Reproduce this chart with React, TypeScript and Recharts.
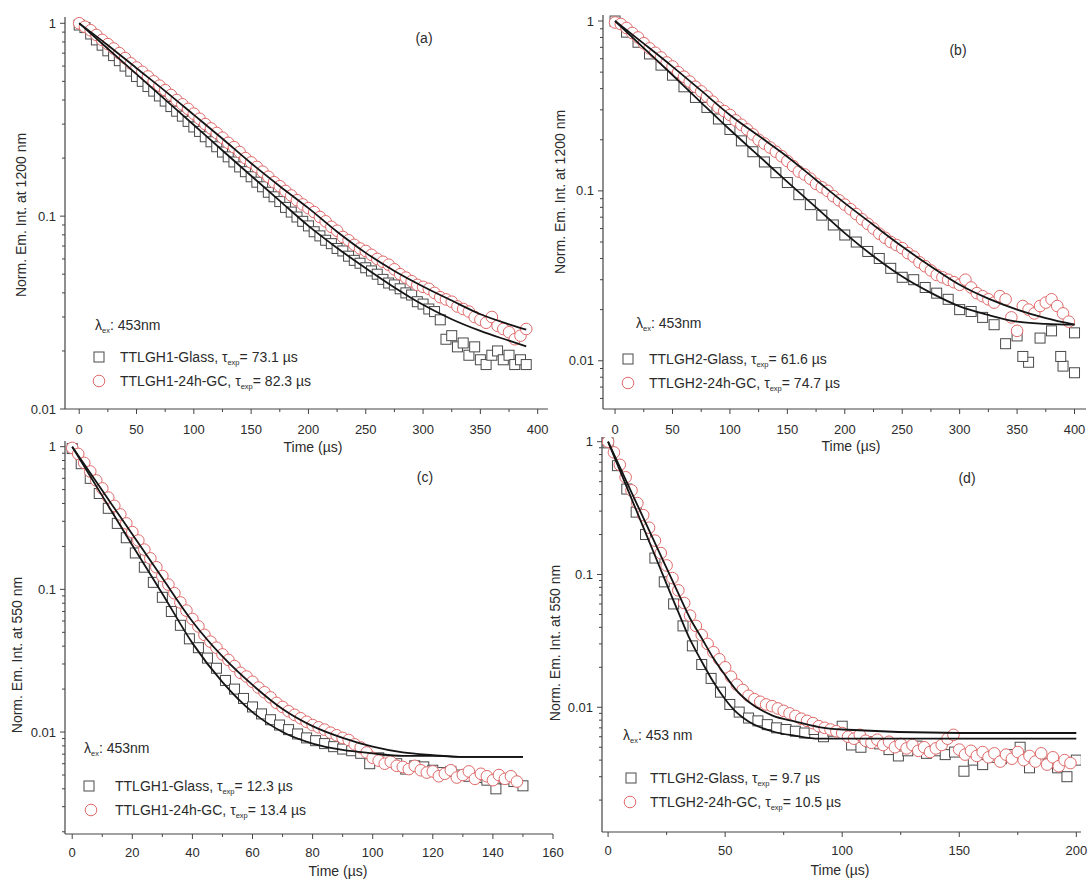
import React from 'react'
import { ComposedChart, Scatter, Line, XAxis, YAxis } from 'recharts'

const W = 1089
const H = 881
const FONT = '"Liberation Sans", Arial, sans-serif'
const TEXT = '#2b2b2b'
const AXIS = '#444'
const SQUARE = '#4a4a4a'
const CIRCLE = '#e06a6a'
const FIT = '#151515'

// ---------- (a) TTLGH1, emission at 1200 nm (symbols every 5 us) ----------
const aStep = 5
const aGlass = [
  0.98, 0.95, 0.88, 0.82, 0.77, 0.72, 0.68, 0.64, 0.60, 0.565,
  0.53, 0.50, 0.47, 0.445, 0.42, 0.395, 0.37, 0.35, 0.33, 0.31,
  0.29, 0.275, 0.258, 0.243, 0.229, 0.215, 0.203, 0.191, 0.18, 0.17,
  0.16, 0.15, 0.142, 0.133, 0.126, 0.119, 0.111, 0.105, 0.099, 0.094,
  0.089, 0.083, 0.079, 0.075, 0.072, 0.068, 0.066, 0.062, 0.059, 0.057,
  0.054, 0.052, 0.050, 0.047, 0.045, 0.044, 0.042, 0.040, 0.039, 0.036,
  0.035, 0.033, 0.032, 0.029, 0.023, 0.024, 0.021, 0.022, 0.019, 0.021,
  0.018, 0.017, 0.019, 0.020, 0.018, 0.019, 0.017, 0.018, 0.017,
]
const aGC = [
  1.0, 0.96, 0.92, 0.87, 0.82, 0.78, 0.74, 0.70, 0.66, 0.62,
  0.59, 0.56, 0.53, 0.50, 0.475, 0.45, 0.425, 0.40, 0.38, 0.36,
  0.34, 0.32, 0.30, 0.285, 0.27, 0.255, 0.24, 0.228, 0.215, 0.20,
  0.19, 0.18, 0.17, 0.16, 0.15, 0.143, 0.135, 0.128, 0.121, 0.115,
  0.11, 0.105, 0.099, 0.094, 0.088, 0.084, 0.078, 0.075, 0.071, 0.068,
  0.066, 0.063, 0.060, 0.058, 0.056, 0.053, 0.050, 0.048, 0.046, 0.044,
  0.043, 0.042, 0.040, 0.038, 0.037, 0.036, 0.034, 0.033, 0.032, 0.030,
  0.029, 0.028, 0.030, 0.027, 0.026, 0.025, 0.023, 0.024, 0.026,
]
const aFitT = [0, 25, 50, 75, 100, 125, 150, 175, 200, 225, 250, 275, 300, 325, 350, 375, 390]
const aFitGlass = [1.0, 0.738, 0.545, 0.402, 0.297, 0.219, 0.162, 0.120, 0.089, 0.0684, 0.0537, 0.0427, 0.0347, 0.0292, 0.0254, 0.0226, 0.0211]
const aFitGC = [1.0, 0.77, 0.585, 0.445, 0.335, 0.252, 0.188, 0.143, 0.11, 0.083, 0.0645, 0.052, 0.0432, 0.0365, 0.031, 0.0275, 0.0258]

// ---------- (b) TTLGH2, emission at 1200 nm ----------
const bGlassStep = 10
const bGlass = [
  1.0, 0.86, 0.75, 0.64, 0.55, 0.48, 0.41, 0.355, 0.31, 0.265,
  0.23, 0.197, 0.17, 0.148, 0.128, 0.112, 0.095, 0.083, 0.072, 0.063,
  0.055, 0.050, 0.044, 0.040, 0.035, 0.031, 0.030, 0.027, 0.025, 0.023,
  0.020, 0.0195, 0.018, 0.0163, 0.0126, 0.0140, 0.0098, 0.0136, 0.015, 0.0093, 0.0146,
]
const bGlassExtraT = [355, 388, 400]
const bGlassExtraV = [0.0106, 0.0106, 0.0085]
const bGCStep = 5
const bGC = [
  0.98, 0.96, 0.91, 0.85, 0.80, 0.74, 0.69, 0.65, 0.61, 0.57,
  0.54, 0.50, 0.47, 0.44, 0.41, 0.385, 0.36, 0.335, 0.31, 0.295,
  0.28, 0.26, 0.245, 0.23, 0.215, 0.20, 0.19, 0.18, 0.17, 0.16,
  0.15, 0.14, 0.13, 0.125, 0.118, 0.11, 0.105, 0.10, 0.093, 0.088,
  0.083, 0.078, 0.073, 0.068, 0.064, 0.06, 0.056, 0.053, 0.05, 0.048,
  0.046, 0.043, 0.041, 0.038, 0.036, 0.034, 0.032, 0.031, 0.030, 0.029,
  0.028, 0.030, 0.027, 0.025, 0.024, 0.023, 0.022, 0.024, 0.023, 0.018,
  0.015, 0.021, 0.020, 0.019, 0.021, 0.022, 0.023, 0.021, 0.019, 0.017,
]
const bFitT = [0, 25, 50, 75, 100, 125, 150, 175, 200, 225, 250, 275, 300, 325, 350, 375, 400]
const bFitGlass = [1.0, 0.693, 0.481, 0.331, 0.229, 0.161, 0.113, 0.080, 0.0564, 0.0412, 0.0313, 0.0251, 0.0209, 0.0186, 0.017, 0.0165, 0.0163]
const bFitGC = [1.0, 0.736, 0.539, 0.389, 0.28, 0.211, 0.159, 0.116, 0.0847, 0.063, 0.047, 0.0359, 0.028, 0.0232, 0.020, 0.0178, 0.0163]

// ---------- (c) TTLGH1, emission at 550 nm ----------
const cGlassStep = 3
const cGlass = [
  0.97, 0.76, 0.60, 0.47, 0.37, 0.29, 0.23, 0.18, 0.143, 0.112,
  0.088, 0.070, 0.056, 0.045, 0.039, 0.033, 0.028, 0.023, 0.020, 0.0172,
  0.015, 0.0134, 0.0122, 0.0112, 0.0104, 0.0097, 0.0091, 0.0087, 0.0083, 0.0079,
  0.0076, 0.0074, 0.0071, 0.0060, 0.0066, 0.0063, 0.0060, 0.0055, 0.0058, 0.0057,
  0.0054, 0.0052, 0.0053, 0.0050, 0.0049, 0.0048, 0.0046, 0.0040, 0.0047, 0.0045, 0.0042,
]
const cGCStep = 2
const cGC = [
  0.98, 0.89, 0.77, 0.67, 0.58, 0.51, 0.44, 0.385, 0.335, 0.29,
  0.252, 0.22, 0.19, 0.165, 0.143, 0.124, 0.108, 0.094, 0.081, 0.071,
  0.062, 0.055, 0.048, 0.043, 0.039, 0.035, 0.032, 0.029, 0.026, 0.0245,
  0.0225, 0.0205, 0.019, 0.0175, 0.016, 0.015, 0.014, 0.0132, 0.0125, 0.0118,
  0.0112, 0.0108, 0.0104, 0.0099, 0.0095, 0.0091, 0.0088, 0.0082, 0.0078, 0.0072,
  0.0066, 0.0063, 0.0060, 0.0062, 0.0058, 0.0057, 0.0055, 0.0058, 0.0054, 0.0052,
  0.0053, 0.0049, 0.0051, 0.0054, 0.0048, 0.0050, 0.0053, 0.0047, 0.0051, 0.0049,
  0.0046, 0.0050, 0.0047, 0.0049, 0.0045,
]
const cFitT = [0, 10, 20, 30, 40, 50, 60, 70, 80, 90, 100, 110, 120, 130, 140, 150]
const cFitGlass = [1.0, 0.452, 0.204, 0.0933, 0.042, 0.0224, 0.0138, 0.0100, 0.0083, 0.0075, 0.0071, 0.0068, 0.0068, 0.0067, 0.0067, 0.0067]
const cFitGC = [1.0, 0.493, 0.243, 0.120, 0.0596, 0.0339, 0.0214, 0.0145, 0.011, 0.0091, 0.0079, 0.0072, 0.0069, 0.0067, 0.0067, 0.0067]

// ---------- (d) TTLGH2, emission at 550 nm ----------
const dGlassStep = 4
const dGlass = [
  0.98, 0.66, 0.44, 0.295, 0.20, 0.133, 0.088, 0.060, 0.041, 0.029,
  0.021, 0.0165, 0.013, 0.0105, 0.0092, 0.0083, 0.0079, 0.0074, 0.0070, 0.0068,
  0.0066, 0.0064, 0.0068, 0.0060, 0.0066, 0.0072, 0.0052, 0.0050, 0.0055, 0.0053,
  0.0048, 0.0043, 0.0047, 0.0051, 0.0045, 0.0047, 0.0044, 0.0046, 0.0033, 0.0040,
  0.0037, 0.0042, 0.0041, 0.0044, 0.0050, 0.0035, 0.0041, 0.0038, 0.0035, 0.0030, 0.0040,
]
const dGCStep = 2.5
const dGC = [
  1.0, 0.83, 0.67, 0.54, 0.43, 0.345, 0.28, 0.225, 0.18, 0.145,
  0.117, 0.094, 0.076, 0.061, 0.049, 0.041, 0.035, 0.030, 0.026, 0.023,
  0.020, 0.017, 0.0148, 0.0135, 0.0122, 0.0115, 0.011, 0.0105, 0.0102, 0.0098,
  0.0094, 0.0090, 0.0086, 0.0082, 0.0079, 0.0076, 0.0072, 0.0070, 0.0068, 0.0066,
  0.0064, 0.0060, 0.0058, 0.0062, 0.0056, 0.0054, 0.0057, 0.0052, 0.0055, 0.0050,
  0.0053, 0.0049, 0.0052, 0.0047, 0.0050, 0.0046, 0.0049, 0.0052, 0.0058, 0.0062,
  0.0048, 0.0044, 0.0047, 0.0043, 0.0046, 0.0042, 0.0045, 0.0039, 0.0044, 0.0041,
  0.0046, 0.0040, 0.0043, 0.0039, 0.0045, 0.0037, 0.0042, 0.0036, 0.0040, 0.0038,
]
const dFitT = [0, 10, 20, 30, 35, 40, 45, 50, 55, 60, 70, 80, 90, 100, 150, 200]
const dFitGlass = [1.0, 0.373, 0.139, 0.052, 0.0324, 0.0221, 0.0155, 0.0115, 0.0091, 0.0078, 0.0066, 0.0061, 0.0058, 0.0058, 0.0058, 0.0058]
const dFitGC = [1.0, 0.416, 0.173, 0.072, 0.0468, 0.0331, 0.0234, 0.0174, 0.0133, 0.011, 0.0087, 0.0078, 0.0071, 0.0068, 0.0064, 0.0064]

const stepped = (vals: number[], step: number) => vals.map((v, i) => ({ t: i * step, v }))
const zipped = (ts: number[], vals: number[]) => ts.map((t, i) => ({ t, v: vals[i] }))
const minors = (lo: number) => [2, 3, 4, 5, 6, 7, 8, 9].map(k => +(k * lo).toPrecision(3))

const Square = (p: any) => (
  <rect x={p.cx - 5} y={p.cy - 5} width={10} height={10} fill="#fff" stroke={SQUARE} strokeWidth={1} />
)
const Ring = (p: any) => (
  <circle cx={p.cx} cy={p.cy} r={5.8} fill="#fff" stroke={CIRCLE} strokeWidth={1} />
)

const makeXTick = (majors: number[], dy: number) => (props: any) => {
  const { x, y, payload } = props
  const major = majors.includes(payload.value)
  return (
    <g>
      <line x1={x} x2={x} y1={y} y2={y + (major ? 5 : 3)} stroke={AXIS} strokeWidth={1} />
      {major && (
        <text x={x} y={y + dy} textAnchor="middle" fontSize={13} fontFamily={FONT} fill={TEXT}>
          {payload.value}
        </text>
      )}
    </g>
  )
}

const makeYTick = (majors: number[]) => (props: any) => {
  const { x, y, payload } = props
  const major = majors.includes(payload.value)
  return (
    <g>
      <line x1={x} x2={x - (major ? 5 : 3)} y1={y} y2={y} stroke={AXIS} strokeWidth={1} />
      {major && (
        <text x={x - 9} y={y + 4.5} textAnchor="end" fontSize={13} fontFamily={FONT} fill={TEXT}>
          {payload.value}
        </text>
      )}
    </g>
  )
}

interface PanelCfg {
  rect: { x: number; y: number; r: number; b: number }
  labelDy: number
  xDomain: [number, number]
  xMajors: number[]
  xMinors: number[]
  yDomain: [number, number]
  yMajors: number[]
  yMinors: number[]
  glass: { t: number; v: number }[]
  gc: { t: number; v: number }[]
  fitGlass: { t: number; v: number }[]
  fitGC: { t: number; v: number }[]
}

const panels: PanelCfg[] = [
  {
    rect: { x: 65, y: 17, r: 548, b: 409 },
    labelDy: 25,
    xDomain: [-12.4, 409],
    xMajors: [0, 50, 100, 150, 200, 250, 300, 350, 400],
    xMinors: [25, 75, 125, 175, 225, 275, 325, 375],
    yDomain: [0.01, 1.078],
    yMajors: [0.01, 0.1, 1],
    yMinors: [...minors(0.01), ...minors(0.1)],
    glass: stepped(aGlass, aStep),
    gc: stepped(aGC, aStep),
    fitGlass: zipped(aFitT, aFitGlass),
    fitGC: zipped(aFitT, aFitGC),
  },
  {
    rect: { x: 603, y: 15, r: 1086, b: 409 },
    labelDy: 25,
    xDomain: [-10.5, 410],
    xMajors: [0, 50, 100, 150, 200, 250, 300, 350, 400],
    xMinors: [25, 75, 125, 175, 225, 275, 325, 375],
    yDomain: [0.0052, 1.085],
    yMajors: [0.01, 0.1, 1],
    yMinors: [0.006, 0.007, 0.008, 0.009, ...minors(0.01), ...minors(0.1)],
    glass: [...stepped(bGlass, bGlassStep), ...zipped(bGlassExtraT, bGlassExtraV)],
    gc: stepped(bGC, bGCStep),
    fitGlass: zipped(bFitT, bFitGlass),
    fitGC: zipped(bFitT, bFitGC),
  },
  {
    rect: { x: 65, y: 441, r: 553, b: 834 },
    labelDy: 23,
    xDomain: [-2.4, 160],
    xMajors: [0, 20, 40, 60, 80, 100, 120, 140, 160],
    xMinors: [10, 30, 50, 70, 90, 110, 130, 150],
    yDomain: [0.00193, 1.096],
    yMajors: [0.01, 0.1, 1],
    yMinors: [...minors(0.001).filter(v => v > 0.00193), ...minors(0.01), ...minors(0.1)],
    glass: stepped(cGlass, cGlassStep),
    gc: stepped(cGC, cGCStep),
    fitGlass: zipped(cFitT, cFitGlass),
    fitGC: zipped(cFitT, cFitGC),
  },
  {
    rect: { x: 602, y: 437, r: 1081, b: 832 },
    labelDy: 23,
    xDomain: [-2.6, 202],
    xMajors: [0, 50, 100, 150, 200],
    xMinors: [25, 75, 125, 175],
    yDomain: [0.00115, 1.085],
    yMajors: [0.01, 0.1, 1],
    yMinors: [...minors(0.001), ...minors(0.01), ...minors(0.1)],
    glass: stepped(dGlass, dGlassStep),
    gc: stepped(dGC, dGCStep),
    fitGlass: zipped(dFitT, dFitGlass),
    fitGC: zipped(dFitT, dFitGC),
  },
]

const layer: React.CSSProperties = { position: 'absolute', left: 0, top: 0 }

function Panel({ p }: { p: PanelCfg }) {
  const yW = 40
  const xH = 30
  const { rect } = p
  return (
    <>
      {/* symbols + axes */}
      <div style={layer}>
        <ComposedChart
          width={W}
          height={H}
          margin={{ left: rect.x - yW, top: rect.y, right: W - rect.r, bottom: H - rect.b - xH }}
        >
          <XAxis
            type="number"
            dataKey="t"
            domain={p.xDomain}
            ticks={[...p.xMajors, ...p.xMinors].sort((a, b) => a - b)}
            interval={0}
            allowDataOverflow
            height={xH}
            tickSize={0}
            tickMargin={0}
            tickLine={false}
            tick={makeXTick(p.xMajors, p.labelDy)}
            axisLine={{ stroke: AXIS, strokeWidth: 1.2 }}
          />
          <YAxis
            type="number"
            dataKey="v"
            scale="log"
            domain={p.yDomain}
            ticks={[...p.yMajors, ...p.yMinors].sort((a, b) => a - b)}
            interval={0}
            allowDataOverflow
            width={yW}
            tickSize={0}
            tickMargin={0}
            tickLine={false}
            tick={makeYTick(p.yMajors)}
            axisLine={{ stroke: AXIS, strokeWidth: 1.2 }}
          />
          <Scatter data={p.glass} shape={Square} isAnimationActive={false} />
          <Scatter data={p.gc} shape={Ring} isAnimationActive={false} />
        </ComposedChart>
      </div>
      {/* fit curves drawn on top of the open symbols */}
      <div style={layer}>
        <ComposedChart
          width={W}
          height={H}
          margin={{ left: rect.x, top: rect.y, right: W - rect.r, bottom: H - rect.b }}
        >
          <XAxis type="number" dataKey="t" domain={p.xDomain} allowDataOverflow hide />
          <YAxis type="number" dataKey="v" scale="log" domain={p.yDomain} allowDataOverflow hide />
          <Line data={p.fitGlass} dataKey="v" type="monotone" stroke={FIT} strokeWidth={1.8} dot={false} activeDot={false} isAnimationActive={false} />
          <Line data={p.fitGC} dataKey="v" type="monotone" stroke={FIT} strokeWidth={1.8} dot={false} activeDot={false} isAnimationActive={false} />
        </ComposedChart>
      </div>
    </>
  )
}

const txt: React.CSSProperties = {
  position: 'absolute',
  fontFamily: FONT,
  fontSize: 14,
  color: TEXT,
  whiteSpace: 'nowrap',
  lineHeight: '16px',
}

function Label({ x, y, children, rotate }: { x: number; y: number; children: React.ReactNode; rotate?: boolean }) {
  return (
    <div style={{ ...txt, left: x, top: y, transform: `translate(-50%, -50%)${rotate ? ' rotate(-90deg)' : ''}` }}>
      {children}
    </div>
  )
}

const sub = (s: string) => <sub style={{ fontSize: 7.5, verticalAlign: '-3px' }}>{s}</sub>

function Legend({ lx, ly, sx, sy, gx, tx, sample, glassTau, gcTau, lambda }: {
  lx: number; ly: number; sx: number; sy: number; gx: number; tx: number
  sample: string; glassTau: string; gcTau: string; lambda: string
}) {
  return (
    <>
      <div style={{ ...txt, left: lx, top: ly - 8 }}>λ{sub('ex')}: {lambda}</div>
      <svg style={{ position: 'absolute', left: sx - 7, top: sy - 7 }} width={14} height={14}>
        <rect x={2} y={2} width={10} height={10} fill="#fff" stroke={SQUARE} />
      </svg>
      <div style={{ ...txt, left: tx, top: sy - 8 }}>{sample}-Glass, τ{sub('exp')}= {glassTau} µs</div>
      <svg style={{ position: 'absolute', left: gx - 7, top: sy + 24 - 7 }} width={14} height={14}>
        <circle cx={7} cy={7} r={5.8} fill="#fff" stroke={CIRCLE} />
      </svg>
      <div style={{ ...txt, left: tx, top: sy + 24 - 8 }}>{sample}-24h-GC, τ{sub('exp')}= {gcTau} µs</div>
    </>
  )
}

export default function App() {
  return (
    <div style={{ position: 'absolute', left: 0, top: 0, width: W, height: H, background: '#fff', overflow: 'hidden' }}>
      {panels.map((p, i) => <Panel key={i} p={p} />)}

      <Label x={424} y={38}>(a)</Label>
      <Label x={958} y={50}>(b)</Label>
      <Label x={425} y={477}>(c)</Label>
      <Label x={967} y={478}>(d)</Label>

      <Label x={21} y={215} rotate>Norm. Em. Int. at 1200 nm</Label>
      <Label x={560} y={192} rotate>Norm. Em. Int. at 1200 nm</Label>
      <Label x={17} y={655} rotate>Norm. Em. Int. at 550 nm</Label>
      <Label x={555} y={643} rotate>Norm. Em. Int. at 550 nm</Label>

      <Label x={313} y={447}>Time (µs)</Label>
      <Label x={851} y={446}>Time (µs)</Label>
      <Label x={338} y={871}>Time (µs)</Label>
      <Label x={840} y={870}>Time (µs)</Label>

      <Legend lx={95} ly={325} sx={99} sy={357} gx={99} tx={120} sample="TTLGH1" glassTau="73.1" gcTau="82.3" lambda="453nm" />
      <Legend lx={636} ly={323} sx={628} sy={359} gx={628} tx={649} sample="TTLGH2" glassTau="61.6" gcTau="74.7" lambda="453nm" />
      <Legend lx={84} ly={748} sx={89} sy={786} gx={91} tx={115} sample="TTLGH1" glassTau="12.3" gcTau="13.4" lambda="453nm" />
      <Legend lx={623} ly={735} sx={631} sy={778} gx={630} tx={650} sample="TTLGH2" glassTau="9.7" gcTau="10.5" lambda="453 nm" />
    </div>
  )
}
